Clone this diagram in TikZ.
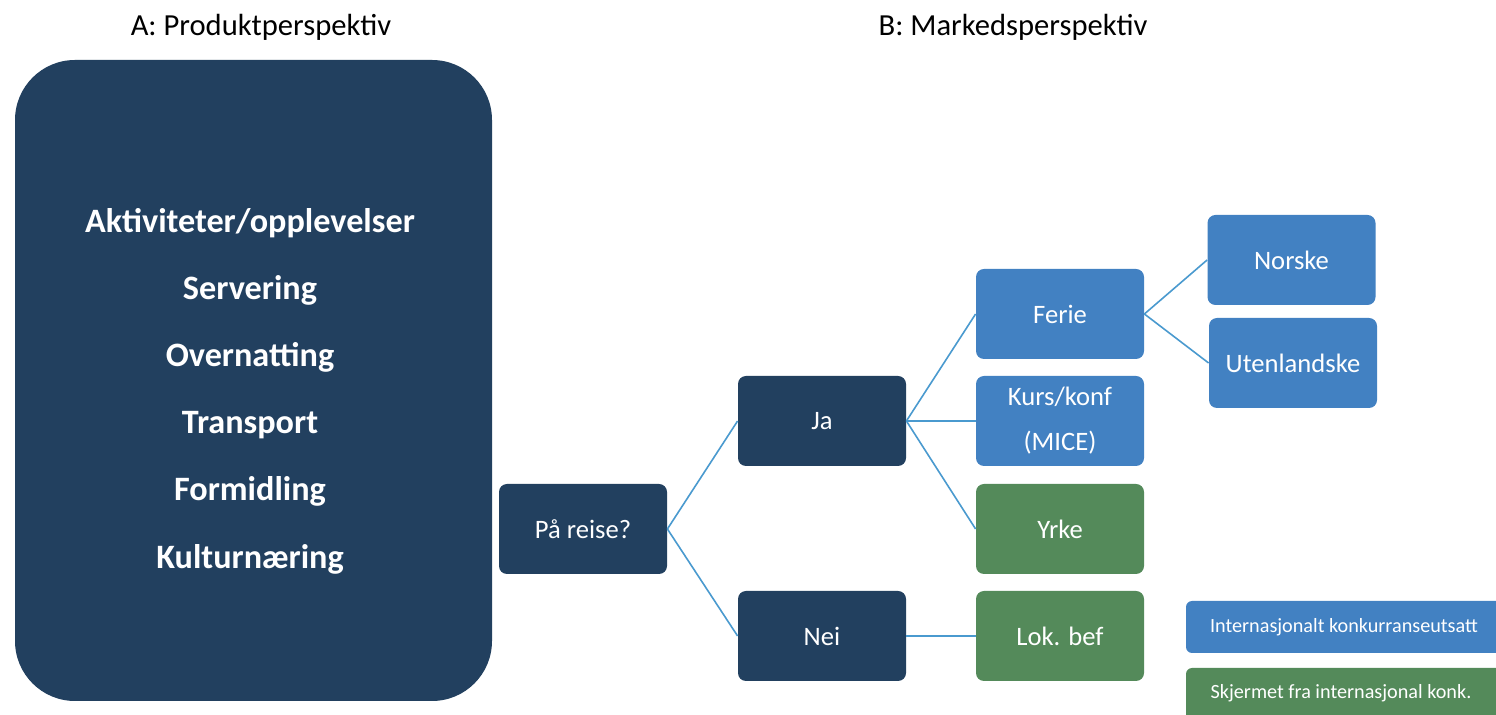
\documentclass[tikz,border=0pt]{standalone}
\usepackage{fontspec}
\setmainfont{Carlito}
\definecolor{navy}{HTML}{22405F}
\definecolor{bblue}{HTML}{4281C2}
\definecolor{bgreen}{HTML}{548A5A}
\definecolor{conn}{HTML}{4A9ACF}
\begin{document}
\begin{tikzpicture}[x=0.5pt,y=-0.5pt,
  box/.style={rounded corners=4pt,inner sep=0pt,minimum width=84pt,minimum height=45pt,text=white,align=center,font=\fontsize{13.3}{22.5}\selectfont},
  navybox/.style={box,fill=navy},
  bluebox/.style={box,fill=bblue},
  greenbox/.style={box,fill=bgreen},
  link/.style={draw=conn,line width=0.8pt},
  legtext/.style={text=white,font=\fontsize{10.1}{12}\selectfont,inner sep=0pt},
  title/.style={font=\fontsize{15.3}{18}\selectfont,inner sep=0pt}]
\clip (0,0) rectangle (1496,715);
\fill[white] (0,0) rectangle (1496,715);
% titles
\node[title] (ta) at (261,27) {A: Produktperspektiv};
\node[title] (tb) at (1013,27) {B: Markedsperspektiv};
% big box
\node[fill=navy,rounded corners=30pt,minimum width=238.5pt,minimum height=320.5pt,inner sep=0pt] (big) at (253.5,380.5) {};
\node[text=white,align=center,font=\bfseries\fontsize{17.1}{33.6}\selectfont] (bigtext) at (250,391)
  {Aktiviteter/opplevelser\\Servering\\Overnatting\\Transport\\Formidling\\Kulturnæring};
% tree
\node[navybox] (reise) at (583,529) {På reise?};
\node[navybox] (ja) at (822,421) {Ja};
\node[navybox] (nei) at (822,636) {Nei};
\node[bluebox] (ferie) at (1060,314) {Ferie};
\node[bluebox] (kurs) at (1060,421) {Kurs/konf\\(MICE)};
\node[greenbox] (yrke) at (1060,529) {Yrke};
\node[greenbox] (lok) at (1060,636) {Lok. bef};
\node[bluebox] (norske) at (1291.5,260) {Norske};
\node[bluebox] (utl) at (1293,363) {Utenlandske};
\draw[link] (reise.east) -- (ja.west);
\draw[link] (reise.east) -- (nei.west);
\draw[link] (ja.east) -- (ferie.west);
\draw[link] (ja.east) -- (kurs.west);
\draw[link] (ja.east) -- (yrke.west);
\draw[link] (nei.east) -- (lok.west);
\draw[link] (ferie.east) -- (norske.west);
\draw[link] (ferie.east) -- (utl.west);
% legend
\node[fill=bblue,rounded corners=3pt,inner sep=0pt,minimum width=165pt,minimum height=26pt] (leg1) at (1351,627) {};
\node[legtext] (leg1t) at (1344,627) {Internasjonalt konkurranseutsatt};
\node[fill=bgreen,rounded corners=3pt,inner sep=0pt,minimum width=165pt,minimum height=40pt] (leg2) at (1351,708) {};
\node[legtext] (leg2t) at (1341,693) {Skjermet fra internasjonal konk.};
\end{tikzpicture}
\end{document}
